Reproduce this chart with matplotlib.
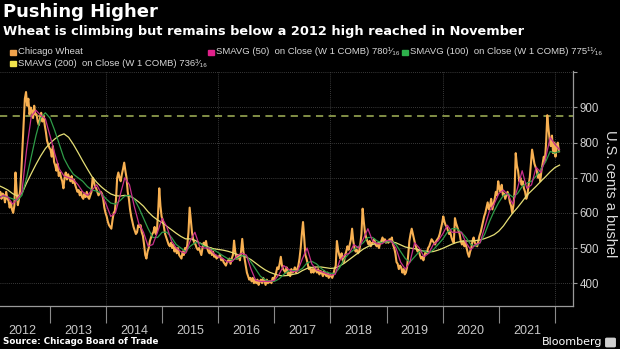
import numpy as np
import matplotlib
matplotlib.use("Agg")
import matplotlib.pyplot as plt
from matplotlib.patches import Rectangle, FancyBboxPatch
from matplotlib.ticker import FixedLocator, NullFormatter

# --------- Datos ---------

# Chicago wheat, cents a bushel, four readings a month (Jan 2012 .. Jan 2022)
wheat_2012 = [640, 655, 630, 645, 645, 660, 640, 655, 650, 630, 660, 640,
              635, 615, 630, 610, 600, 620, 715, 660, 622, 640, 665, 720,
              790, 860, 925, 944, 905, 925, 880, 900, 890, 870, 905, 880,
              880, 860, 850, 870, 885, 860, 875, 850, 830, 805, 795, 785]
wheat_2013 = [780, 760, 790, 745, 735, 720, 740, 705, 715, 700, 690, 670,
              700, 715, 695, 710, 700, 690, 705, 685, 695, 680, 670, 660,
              665, 650, 660, 645, 640, 655, 645, 660, 645, 640, 650, 660,
              700, 690, 675, 670, 660, 650, 655, 660, 655, 640, 615, 600]
wheat_2014 = [590, 575, 565, 560, 555, 580, 600, 605, 640, 700, 715, 700,
              690, 710, 725, 743, 720, 700, 660, 640, 610, 590, 575, 560,
              550, 540, 545, 565, 560, 565, 545, 535, 510, 480, 470, 490,
              500, 520, 530, 540, 545, 560, 540, 550, 600, 670, 620, 590]
wheat_2015 = [580, 560, 540, 530, 520, 510, 505, 515, 500, 510, 490, 500,
              485, 500, 480, 475, 470, 490, 480, 500, 490, 510, 545, 615,
              580, 545, 525, 515, 510, 500, 495, 500, 490, 480, 500, 515,
              510, 520, 500, 490, 485, 500, 480, 490, 475, 480, 470, 475]
wheat_2016 = [475, 480, 465, 470, 460, 455, 450, 460, 465, 470, 455, 470,
              480, 521, 490, 470, 470, 480, 465, 490, 526, 490, 470, 450,
              430, 420, 410, 415, 405, 415, 400, 410, 400, 410, 395, 405,
              410, 400, 415, 405, 395, 410, 400, 405, 405, 400, 415, 410]
wheat_2017 = [420, 430, 445, 440, 455, 475, 450, 440, 435, 430, 445, 425,
              430, 420, 440, 430, 435, 445, 430, 440, 450, 470, 500, 540,
              574, 530, 480, 470, 455, 440, 445, 430, 440, 430, 445, 435,
              430, 440, 425, 435, 430, 420, 435, 425, 420, 430, 415, 425]
wheat_2018 = [420, 415, 425, 440, 450, 520, 495, 480, 470, 485, 465, 460,
              480, 490, 505, 495, 510, 525, 555, 520, 500, 490, 495, 485,
              490, 510, 540, 612, 575, 545, 530, 520, 510, 520, 505, 515,
              515, 525, 510, 505, 510, 500, 515, 520, 530, 520, 525, 515]
wheat_2019 = [520, 515, 525, 520, 530, 510, 500, 485, 460, 455, 440, 450,
              445, 430, 440, 425, 430, 445, 480, 520, 540, 555, 540, 525,
              510, 500, 490, 495, 480, 470, 475, 465, 480, 490, 485, 500,
              505, 515, 525, 520, 515, 510, 520, 525, 530, 540, 555, 570]
wheat_2020 = [590, 575, 565, 560, 550, 540, 545, 530, 520, 515, 585, 570,
              560, 550, 540, 520, 510, 520, 505, 515, 500, 485, 475, 490,
              500, 520, 530, 515, 510, 505, 520, 535, 545, 560, 575, 590,
              600, 615, 630, 610, 620, 640, 610, 625, 640, 660, 650, 690]
wheat_2021 = [670, 660, 680, 650, 655, 640, 650, 660, 650, 630, 620, 600,
              620, 660, 770, 735, 720, 690, 700, 680, 690, 670, 660, 640,
              650, 680, 700, 740, 780, 760, 740, 730, 720, 700, 710, 690,
              720, 740, 760, 750, 800, 878, 840, 810, 790, 820, 770, 800]
wheat_2022 = [760, 790, 800, 775]

# Medias moviles (Bloomberg SMAVG), leidas al inicio de cada mes (Jan 2012 .. Feb 2022)
sma50 = [625, 640, 650, 645, 625, 640, 660, 780, 875, 892, 878, 868,
         820, 770, 725, 705, 700, 695, 680, 660, 650, 665, 680, 655,
         625, 590, 600, 650, 700, 680, 620, 570, 545, 505, 510, 545,
         585, 560, 520, 500, 490, 485, 520, 545, 505, 500, 500, 485,
         475, 470, 460, 462, 478, 485, 480, 440, 408, 405, 405, 405,
         408, 425, 450, 440, 432, 435, 470, 500, 455, 438, 433, 428,
         423, 425, 465, 480, 485, 510, 500, 525, 555, 520, 512, 512,
         522, 520, 500, 460, 440, 460, 515, 500, 475, 485, 510, 520,
         540, 565, 545, 545, 545, 515, 495, 510, 515, 560, 605, 625,
         655, 665, 650, 625, 670, 720, 670, 680, 730, 715, 755, 815,
         795, 780]
sma100 = [640, 645, 648, 645, 640, 635, 650, 700, 760, 820, 870, 885,
          870, 835, 795, 755, 730, 710, 700, 690, 675, 665, 662, 655,
          640, 628, 625, 635, 648, 650, 640, 615, 585, 555, 530, 530,
          545, 545, 530, 510, 500, 490, 505, 515, 515, 505, 500, 495,
          487, 478, 470, 466, 470, 478, 478, 460, 440, 420, 410, 405,
          405, 412, 425, 435, 436, 434, 442, 458, 462, 455, 442, 432,
          428, 428, 445, 470, 485, 495, 505, 515, 530, 530, 520, 515,
          517, 520, 510, 490, 470, 460, 475, 490, 492, 485, 495, 510,
          525, 545, 555, 555, 545, 530, 510, 505, 515, 540, 575, 605,
          630, 650, 655, 645, 655, 675, 685, 690, 705, 725, 745, 775,
          770, 776]
sma200 = [680, 678, 672, 665, 655, 648, 655, 685, 712, 738, 762, 783,
          798, 810, 820, 825, 815, 795, 772, 748, 725, 703, 687, 674,
          663, 654, 649, 648, 650, 648, 641, 631, 619, 603, 590, 580,
          572, 562, 552, 542, 533, 526, 526, 522, 515, 508, 502, 498,
          496, 494, 491, 487, 482, 479, 474, 467, 457, 447, 438, 431,
          426, 422, 421, 422, 425, 428, 436, 442, 445, 446, 446, 444,
          442, 443, 449, 457, 467, 477, 487, 497, 504, 510, 514, 517,
          518, 518, 515, 509, 503, 500, 498, 495, 491, 489, 490, 494,
          499, 505, 511, 516, 519, 520, 520, 521, 523, 527, 532, 538,
          548, 563, 582, 600, 615, 632, 650, 663, 676, 690, 703, 717,
          729, 736]

high_level = 876
years = list(range(2012, 2022))
y_ticks = [400, 500, 600, 700, 800, 900, 1000]

price = (wheat_2012 + wheat_2013 + wheat_2014 + wheat_2015 + wheat_2016 +
         wheat_2017 + wheat_2018 + wheat_2019 + wheat_2020 + wheat_2021 + wheat_2022)
x_price = 2012 + (np.arange(len(price)) + 0.5) / 48
x_sma = 2012 + np.arange(len(sma50)) / 12

# --------- Grafico ---------

W, H = 620, 349
sans = ['Liberation Sans', 'DejaVu Sans']

fig = plt.figure(figsize=(W / 100, H / 100), dpi=100, facecolor='black')
ax = fig.add_axes([0, 1 - 306 / H, 573 / W, (306 - 70.6) / H])
ax.set_facecolor('black')

ax.plot(x_price, price, color='#f7b052', lw=1.5, zorder=3)
ax.plot(x_sma, sma200, color='#e6df76', lw=0.9, zorder=4)
ax.plot(x_sma, sma100, color='#2f9c48', lw=0.9, zorder=4)
ax.plot(x_sma, sma50, color='#c8308c', lw=0.9, zorder=4)
ax.axhline(high_level, color='#8c9b4c', lw=1.3, dashes=(4, 3), zorder=2)

ax.set_xlim(2012.109, 2022.323)
ax.set_ylim(335, 1005)

# rejilla
for v in y_ticks:
    ax.axhline(v, color='#4d4d4d', lw=0.6, ls=(0, (1, 1.5)), zorder=1)
for yr in range(2014, 2023, 2):
    ax.axvline(yr, color='#4d4d4d', lw=0.6, ls=(0, (1, 1.5)), zorder=1)

# ejes
for s in ['top', 'left']:
    ax.spines[s].set_visible(False)
for s in ['right', 'bottom']:
    ax.spines[s].set_color('#9a9a9a')
    ax.spines[s].set_linewidth(0.9)

ax.yaxis.tick_right()
ax.set_yticks(y_ticks)
ax.set_yticklabels([str(v) for v in y_ticks[:-1]] + [''])
ax.tick_params(axis='y', length=3, width=0.8, color='#9a9a9a', labelcolor='#d0d0d0',
               labelsize=8.3, pad=1.5)
for lab in ax.get_yticklabels():
    lab.set_family(sans)

ax.xaxis.set_major_locator(FixedLocator([y + 1 for y in years]))
ax.xaxis.set_major_formatter(NullFormatter())
ax.xaxis.set_minor_locator(FixedLocator([y + 0.5 for y in years]))
ax.set_xticklabels([str(y) for y in years], minor=True)
ax.tick_params(axis='x', which='major', length=12, width=0.8, color='#8a8a8a')
ax.tick_params(axis='x', which='minor', length=0, pad=13.5, labelcolor='#c8c8c8', labelsize=9)
for lab in ax.get_xticklabels(minor=True):
    lab.set_family(sans)

# textos
def px(x, y):
    return x / W, 1 - y / H

fig.text(*px(3, 12), 'Pushing Higher', color='white', fontsize=13, weight='bold', va='center')
fig.text(*px(3, 32), 'Wheat is climbing but remains below a 2012 high reached in November',
         color='white', fontsize=9.3, weight='bold', va='center')

legend_items = [
    ('Chicago Wheat', '#f0a24c', 10, 52),
    ('SMAVG (50)  on Close (W 1 COMB) 780\u00b9\u2044\u2081\u2086', '#e0218a', 208, 52),
    ('SMAVG (100)  on Close (W 1 COMB) 775\u00b9\u00b9\u2044\u2081\u2086', '#2db14b', 402, 52),
    ('SMAVG (200)  on Close (W 1 COMB) 736\u00b3\u2044\u2081\u2086', '#f2e44c', 10, 63),
]
for label, col, x0, y0 in legend_items:
    fig.add_artist(Rectangle(px(x0, y0 + 3), 5.5 / W, 5.5 / H, color=col,
                             transform=fig.transFigure))
    fig.text(*px(x0 + 8, y0), label, color='#d8d8d8', fontsize=6.8, va='center', family=sans)

fig.text(*px(610, 194), 'U.S. cents a bushel', color='#dcdcdc', fontsize=10.5, rotation=270,
         ha='center', va='center', family=sans)

fig.text(*px(3, 342), 'Source: Chicago Board of Trade', color='white', fontsize=6.3,
         weight='bold', va='center')
fig.text(*px(542, 342), 'Bloomberg', color='white', fontsize=8, va='center')
fig.add_artist(FancyBboxPatch(px(607, 346), 7 / W, 7 / H, boxstyle='round,pad=0.002',
                              color='#cfcfcf', transform=fig.transFigure))

fig.savefig('out.png', dpi=100, facecolor='black')
